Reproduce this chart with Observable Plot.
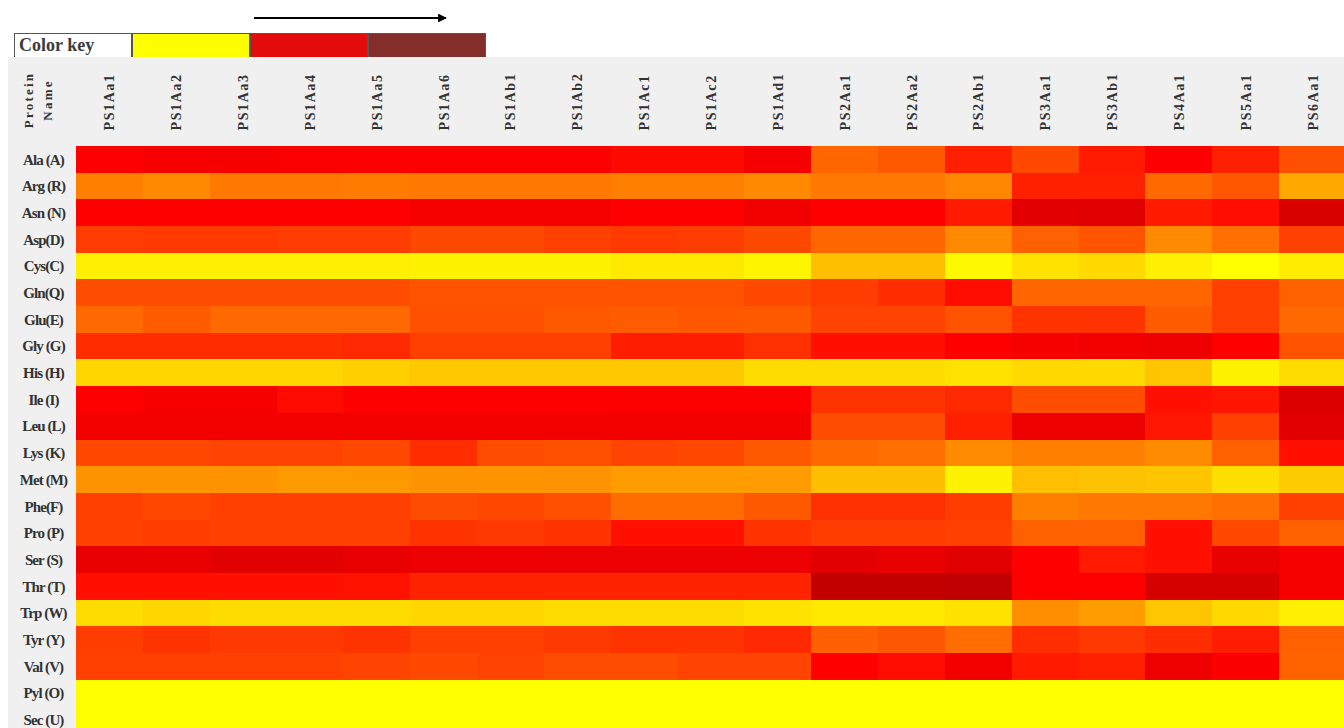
<!DOCTYPE html>
<html>
<head>
<meta charset="utf-8">
<script src="https://cdn.jsdelivr.net/npm/d3@7"></script>
<script src="https://cdn.jsdelivr.net/npm/@observablehq/plot@0.6"></script>
<style>
  html, body { margin: 0; padding: 0; background: #fff; overflow: hidden; width: 1344px; height: 728px; }
  body { position: relative; font-family: "Liberation Serif", "Times New Roman", serif; }
  #key { position: absolute; left: 14px; top: 33px; width: 472px; display: flex; border: 1.5px solid #555; box-sizing: border-box; height: 25px; }
  #key div { box-sizing: border-box; height: 100%; flex: none; }
  #key .label { width: 118px; background: #fff; border-right: 2px solid #555; font-weight: bold; font-size: 18px; color: #3c3c3c; padding-left: 4px; line-height: 22px; }
  #key .swatch { width: 118px; border-right: 2px solid #555; }
  #key .swatch:last-child { border-right: none; flex: 1; }
  #arrow { position: absolute; left: 250px; top: 10px; }
  #chart { position: absolute; left: 8px; top: 57px; background: #f0f0f0; width: 1336px; height: 671px; overflow: hidden; }
  #chart svg { max-width: none !important; }
  #corner { position: absolute; left: 38px; top: 100px; transform: translate(-50%, -50%) rotate(-90deg); text-align: center;
            font-weight: bold; font-size: 13px; letter-spacing: 2.2px; line-height: 19px; color: #333; white-space: nowrap; }
</style>
</head>
<body>
<svg id="arrow" width="210" height="16"></svg>
<div id="key"></div>
<div id="chart"></div>
<div id="corner">Protein<br>Name</div>
<script>
// Column headers: protein sequences
const proteins = ["PS1Aa1", "PS1Aa2", "PS1Aa3", "PS1Aa4", "PS1Aa5", "PS1Aa6", "PS1Ab1", "PS1Ab2",
  "PS1Ac1", "PS1Ac2", "PS1Ad1", "PS2Aa1", "PS2Aa2", "PS2Ab1", "PS3Aa1", "PS3Ab1", "PS4Aa1", "PS5Aa1", "PS6Aa1"];

// Row headers: amino acids
const aminoAcids = ["Ala (A)", "Arg (R)", "Asn (N)", "Asp(D)", "Cys(C)", "Gln(Q)", "Glu(E)", "Gly (G)",
  "His (H)", "Ile (I)", "Leu (L)", "Lys (K)", "Met (M)", "Phe(F)", "Pro (P)", "Ser (S)", "Thr (T)",
  "Trp (W)", "Tyr (Y)", "Val (V)", "Pyl (O)", "Sec (U)"];

// Relative abundance score (0 = low, 100 = high) for each amino acid, one value per protein
const ala = [80, 82, 82, 81, 80, 80, 80, 80, 77, 77, 83, 48, 52, 70, 57, 72, 80, 70, 55];
const arg = [40, 37, 42, 42, 41, 42, 42, 42, 40, 40, 37, 42, 42, 38, 70, 70, 47, 53, 27];
const asn = [80, 80, 80, 80, 80, 83, 83, 83, 80, 80, 84, 80, 80, 72, 89, 90, 72, 76, 92];
const asp = [61, 62, 62, 61, 61, 57, 57, 60, 62, 61, 57, 48, 48, 37, 50, 54, 37, 45, 60];
const cys = [5, 5, 5, 5, 5, 4, 4, 4, 7, 7, 3, 20, 20, 2, 9, 12, 5, 0, 6];
const gln = [56, 56, 56, 56, 56, 54, 54, 54, 54, 54, 57, 61, 66, 76, 48, 48, 48, 60, 50];
const glu = [47, 51, 47, 47, 47, 55, 55, 52, 51, 53, 52, 59, 59, 54, 64, 64, 51, 60, 47];
const gly = [66, 66, 66, 66, 67, 60, 60, 60, 71, 71, 65, 75, 75, 80, 83, 84, 86, 80, 54];
const his = [13, 13, 13, 13, 15, 17, 17, 17, 17, 17, 11, 11, 11, 9, 12, 12, 18, 4, 11];
const ile = [80, 82, 82, 77, 80, 80, 80, 80, 81, 81, 81, 64, 64, 67, 56, 56, 75, 73, 91];
const leu = [84, 84, 84, 84, 84, 84, 84, 84, 84, 84, 84, 56, 56, 70, 86, 86, 73, 60, 89];
const lys = [57, 57, 59, 59, 57, 66, 56, 55, 59, 57, 52, 47, 45, 36, 40, 40, 36, 50, 75];
const met = [34, 34, 34, 32, 32, 34, 34, 34, 31, 31, 31, 20, 20, 4, 20, 19, 18, 10, 16];
const phe = [60, 57, 60, 60, 60, 56, 57, 55, 46, 46, 52, 65, 65, 61, 40, 42, 42, 45, 60];
const pro = [60, 61, 60, 60, 60, 64, 62, 64, 75, 75, 64, 61, 61, 60, 50, 50, 75, 57, 50];
const ser = [87, 87, 89, 89, 87, 86, 86, 86, 86, 86, 86, 89, 87, 90, 80, 72, 75, 87, 83];
const thr = [75, 75, 75, 75, 74, 69, 69, 69, 69, 69, 69, 99, 99, 100, 80, 80, 93, 93, 83];
const trp = [11, 13, 11, 11, 11, 13, 13, 11, 11, 11, 9, 7, 7, 9, 35, 31, 18, 12, 5];
const tyr = [61, 64, 62, 62, 64, 60, 60, 62, 64, 64, 67, 50, 53, 46, 66, 62, 66, 71, 50];
const val = [60, 60, 60, 60, 59, 57, 59, 56, 56, 59, 59, 80, 76, 84, 72, 70, 85, 81, 49];
const pyl = [0, 0, 0, 0, 0, 0, 0, 0, 0, 0, 0, 0, 0, 0, 0, 0, 0, 0, 0];
const sec = [0, 0, 0, 0, 0, 0, 0, 0, 0, 0, 0, 0, 0, 0, 0, 0, 0, 0, 0];

const rows = [ala, arg, asn, asp, cys, gln, glu, gly, his, ile, leu, lys, met, phe, pro, ser, thr, trp, tyr, val, pyl, sec];

// Colour key swatches (low → high)
const keyLabel = "Color key";
const keyColors = ["#ffff00", "#e30b0b", "#852d29"];

// Long-format table for the cell mark
const table = rows.flatMap((vals, i) =>
  vals.map((v, j) => ({acid: aminoAcids[i], protein: proteins[j], value: v})));

const serif = "'Liberation Serif', 'Times New Roman', serif";

const chart = Plot.plot({
  width: 1338,
  height: 676,
  marginLeft: 68,
  marginTop: 89,
  marginRight: 0,
  marginBottom: 0,
  style: {background: "transparent", fontFamily: serif, color: "#333"},
  x: {domain: proteins, padding: 0, round: false},
  y: {domain: aminoAcids, padding: 0, round: false},
  color: {type: "linear", domain: [0, 80, 100], range: ["#ffff00", "#ff0000", "#c00000"], interpolate: "rgb"},
  marks: [
    Plot.cell(table, {x: "protein", y: "acid", fill: "value", inset: 0, shapeRendering: "crispEdges"}),
    Plot.axisX({anchor: "top", tickSize: 0, tickPadding: 16, tickRotate: -90, textAnchor: "start",
      fontSize: 14, fontWeight: "bold", fontFamily: serif, fill: "#333", label: null}),
    Plot.axisY({anchor: "left", tickSize: 0, tickPadding: 33, textAnchor: "middle",
      fontSize: 15, fontWeight: "bold", fontFamily: serif, fill: "#333", label: null})
  ]
});
document.getElementById("chart").append(chart);
d3.select(chart).selectAll('[aria-label="x-axis tick label"] text').style("letter-spacing", "1.6px");
d3.select(chart).selectAll('[aria-label="y-axis tick label"] text').style("letter-spacing", "-0.9px");

// Colour key strip
const key = d3.select("#key");
key.append("div").attr("class", "label").text(keyLabel);
key.selectAll(".swatch").data(keyColors).join("div").attr("class", "swatch").style("background", d => d);

// Direction arrow above the key
const arrow = d3.select("#arrow");
arrow.append("defs").append("marker").attr("id", "head").attr("viewBox", "0 0 10 10")
  .attr("refX", 9).attr("refY", 5).attr("markerWidth", 4).attr("markerHeight", 4).attr("orient", "auto")
  .append("path").attr("d", "M0,0L10,5L0,10z").attr("fill", "#000");
arrow.append("line").attr("x1", 4).attr("x2", 196).attr("y1", 8).attr("y2", 8)
  .attr("stroke", "#000").attr("stroke-width", 2.2).attr("marker-end", "url(#head)");
</script>
</body>
</html>
